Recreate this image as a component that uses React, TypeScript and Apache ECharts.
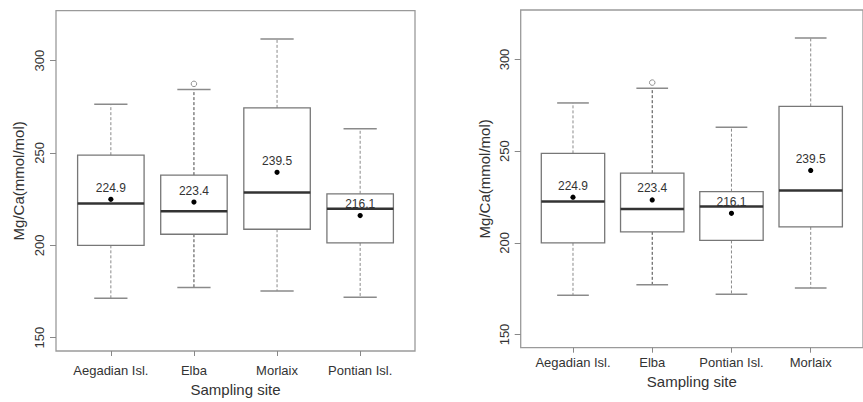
import React, { useEffect, useRef } from "react";
import * as echarts from "echarts";

// ---- data ----
const sites = ["Aegadian Isl.", "Elba", "Morlaix", "Pontian Isl."];
const lowerWhisker = [171.4, 177.2, 175.3, 171.9];
const firstQuartile = [200.0, 206.0, 208.7, 201.3];
const medians = [222.6, 218.5, 228.6, 219.8];
const thirdQuartile = [248.8, 238.0, 274.4, 227.9];
const upperWhisker = [276.3, 284.3, 311.7, 263.1];
const means = [224.9, 223.4, 239.5, 216.1];
const outlierSites = ["Elba"];
const outlierValues = [287.4];

const leftOrder = ["Aegadian Isl.", "Elba", "Morlaix", "Pontian Isl."];
const rightOrder = ["Aegadian Isl.", "Elba", "Pontian Isl.", "Morlaix"];

const yTicks = [150, 200, 250, 300];
const xTickPositions = [1, 2, 3, 4];

const FONT = "'Liberation Sans', Arial, Helvetica, sans-serif";

function boxData(order: string[]) {
  return order.map((name, i) => {
    const k = sites.indexOf(name);
    return [
      i + 1,
      lowerWhisker[k],
      firstQuartile[k],
      medians[k],
      thirdQuartile[k],
      upperWhisker[k],
      means[k],
      name === "Elba" ? 1 : 0,
    ];
  });
}

function outlierData(order: string[]) {
  return outlierSites.map((s, j) => [order.indexOf(s) + 1, outlierValues[j]]);
}

const renderBox = (params: any, api: any) => {
  const x = api.value(0);
  const lo = api.value(1);
  const q1 = api.value(2);
  const med = api.value(3);
  const q3 = api.value(4);
  const hi = api.value(5);
  const mean = api.value(6);
  const dark = api.value(7) === 1;
  const halfBox = api.size([0.8, 0])[0] / 2;
  const halfStaple = halfBox / 2;
  const pLo = api.coord([x, lo]);
  const pQ1 = api.coord([x, q1]);
  const pMed = api.coord([x, med]);
  const pQ3 = api.coord([x, q3]);
  const pHi = api.coord([x, hi]);
  const pMean = api.coord([x, mean]);
  const cx = pMed[0];
  const whiskerColor = dark ? "#444" : "#8a8a8a";
  return {
    type: "group",
    children: [
      {
        type: "line",
        shape: { x1: cx, y1: pQ3[1], x2: cx, y2: pHi[1] },
        style: { stroke: whiskerColor, lineWidth: 1, lineDash: [3, 2] },
      },
      {
        type: "line",
        shape: { x1: cx, y1: pQ1[1], x2: cx, y2: pLo[1] },
        style: { stroke: whiskerColor, lineWidth: 1, lineDash: [3, 2] },
      },
      {
        type: "line",
        shape: { x1: cx - halfStaple, y1: pHi[1], x2: cx + halfStaple, y2: pHi[1] },
        style: { stroke: "#8a8a8a", lineWidth: 1.5 },
      },
      {
        type: "line",
        shape: { x1: cx - halfStaple, y1: pLo[1], x2: cx + halfStaple, y2: pLo[1] },
        style: { stroke: "#8a8a8a", lineWidth: 1.5 },
      },
      {
        type: "rect",
        shape: { x: cx - halfBox, y: pQ3[1], width: halfBox * 2, height: pQ1[1] - pQ3[1] },
        style: { fill: "#fff", stroke: "#777", lineWidth: 1.3 },
      },
      {
        type: "line",
        shape: { x1: cx - halfBox, y1: pMed[1], x2: cx + halfBox, y2: pMed[1] },
        style: { stroke: "#333", lineWidth: 2.5 },
      },
      {
        type: "circle",
        shape: { cx: cx, cy: pMean[1], r: 2.6 },
        style: { fill: "#000" },
      },
      {
        type: "text",
        x: cx,
        y: pMean[1] - 11.5,
        style: {
          text: mean.toFixed(1),
          fill: "#333",
          fontSize: 12,
          fontFamily: FONT,
          align: "center",
          verticalAlign: "middle",
        },
      },
    ],
  };
};

function makeAxes(
  gridIndex: number,
  order: string[],
  yNameGap: number,
  xNameGap: number,
  xLabelMargin: number
) {
  const xAxis = {
    type: "value",
    gridIndex,
    min: 0.34,
    max: 4.66,
    axisLine: { show: false },
    splitLine: { show: false },
    axisTick: {
      show: true,
      length: 5,
      customValues: xTickPositions,
      lineStyle: { color: "#888" },
    },
    axisLabel: {
      customValues: xTickPositions,
      formatter: (v: number) => order[Math.round(v) - 1] ?? "",
      color: "#333",
      fontSize: 13,
      fontFamily: FONT,
      margin: xLabelMargin,
    },
    name: "Sampling site",
    nameLocation: "middle",
    nameGap: xNameGap,
    nameTextStyle: { color: "#333", fontSize: 15, fontFamily: FONT },
  };
  const yAxis = {
    type: "value",
    gridIndex,
    min: 142.8,
    max: 327,
    axisLine: { show: false },
    splitLine: { show: false },
    axisTick: {
      show: true,
      length: 6,
      customValues: yTicks,
      lineStyle: { color: "#888" },
    },
    axisLabel: {
      customValues: yTicks,
      rotate: 90,
      color: "#333",
      fontSize: 13,
      fontFamily: FONT,
      margin: 10,
    },
    name: "Mg/Ca(mmol/mol)",
    nameLocation: "middle",
    nameRotate: 90,
    nameGap: yNameGap,
    nameTextStyle: { color: "#333", fontSize: 15, fontFamily: FONT },
  };
  return { xAxis, yAxis };
}

export default function App() {
  const ref = useRef<HTMLDivElement>(null);
  useEffect(() => {
    if (!ref.current) return;
    const chart = echarts.init(ref.current, undefined, { renderer: "svg" });
    const a = makeAxes(0, leftOrder, 30, 31, 13);
    const b = makeAxes(1, rightOrder, 29, 25, 8);
    chart.setOption({
      animation: false,
      backgroundColor: "#fff",
      grid: [
        {
          left: 56,
          top: 10.7,
          width: 359,
          height: 348.3,
          show: true,
          borderColor: "#9a9a9a",
          borderWidth: 1.3,
          backgroundColor: "transparent",
        },
        {
          left: 520.7,
          top: 10,
          width: 350,
          height: 337.7,
          show: true,
          borderColor: "#9a9a9a",
          borderWidth: 1.3,
          backgroundColor: "transparent",
        },
      ],
      xAxis: [a.xAxis, b.xAxis],
      yAxis: [a.yAxis, b.yAxis],
      series: [
        {
          type: "custom",
          xAxisIndex: 0,
          yAxisIndex: 0,
          renderItem: renderBox,
          encode: { x: 0, y: [1, 2, 3, 4, 5, 6] },
          data: boxData(leftOrder),
          silent: true,
        },
        {
          type: "custom",
          xAxisIndex: 1,
          yAxisIndex: 1,
          renderItem: renderBox,
          encode: { x: 0, y: [1, 2, 3, 4, 5, 6] },
          data: boxData(rightOrder),
          silent: true,
        },
        {
          type: "scatter",
          xAxisIndex: 0,
          yAxisIndex: 0,
          symbol: "circle",
          symbolSize: 5.5,
          itemStyle: { color: "#fff", borderColor: "#777", borderWidth: 1 },
          data: outlierData(leftOrder),
          silent: true,
        },
        {
          type: "scatter",
          xAxisIndex: 1,
          yAxisIndex: 1,
          symbol: "circle",
          symbolSize: 5.5,
          itemStyle: { color: "#fff", borderColor: "#777", borderWidth: 1 },
          data: outlierData(rightOrder),
          silent: true,
        },
      ],
    });
    return () => chart.dispose();
  }, []);
  return (
    <div
      ref={ref}
      style={{ position: "fixed", left: 0, top: 0, width: 863, height: 402 }}
    />
  );
}
